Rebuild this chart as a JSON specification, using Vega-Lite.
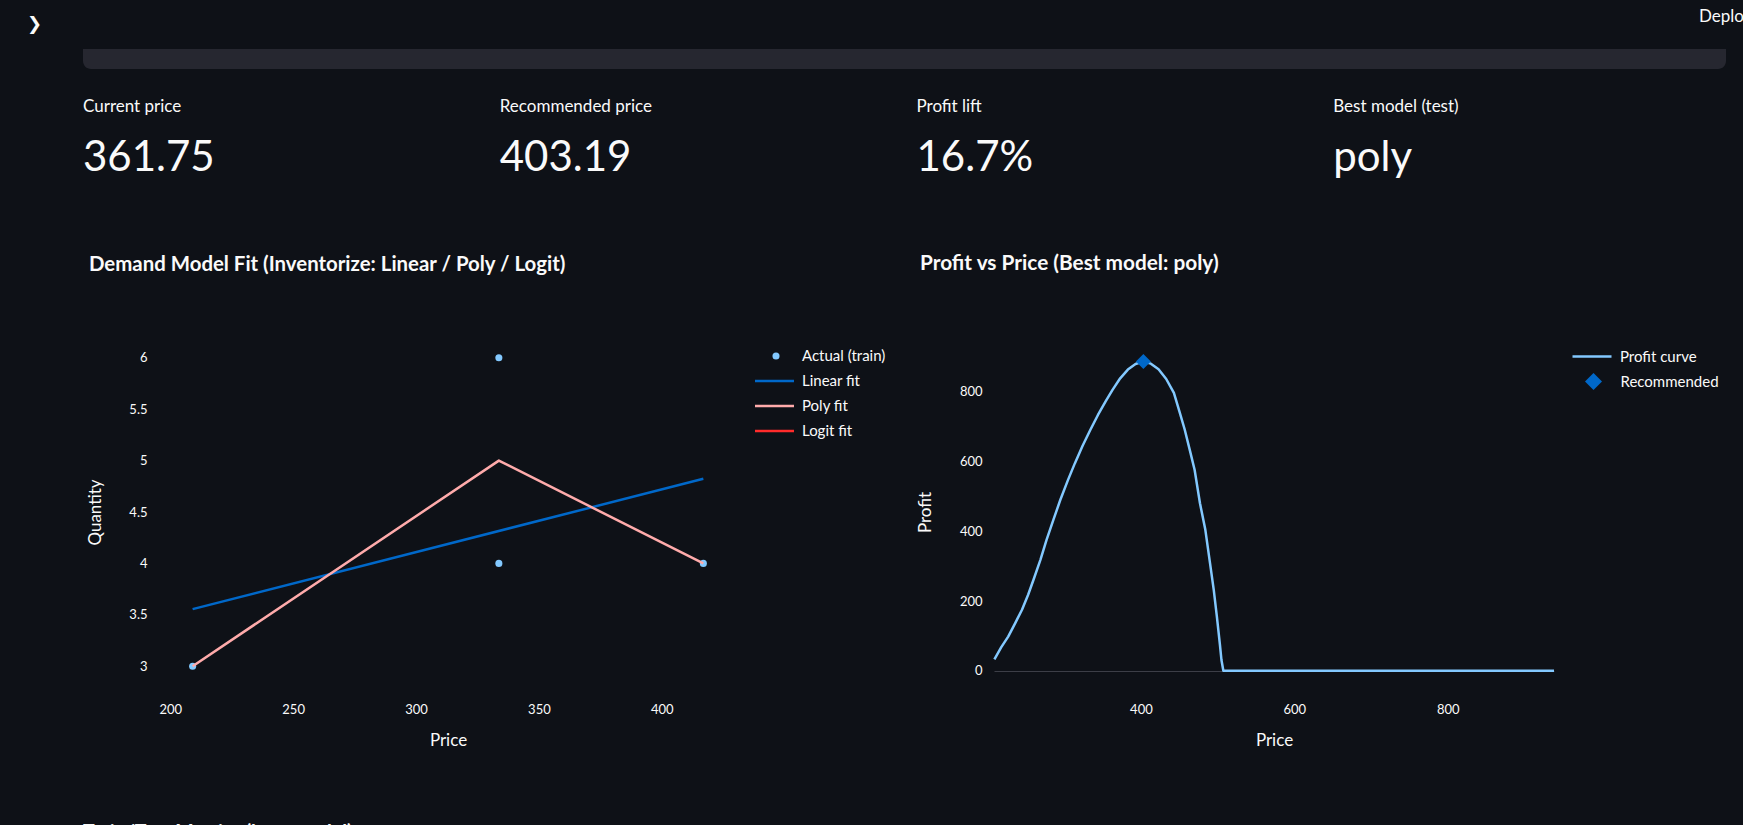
{
  "$schema": "https://vega.github.io/schema/vega-lite/v6.json",
  "background": "#0e1117",
  "autosize": {"type": "none"},
  "padding": {"left": 83, "top": 0, "right": 1660, "bottom": 825},
  "config": {
    "font": "Lato",
    "view": {"stroke": null},
    "axis": {
      "domain": false, "ticks": false, "grid": false,
      "labelColor": "#fafafa", "titleColor": "#fafafa",
      "labelFont": "Lato", "titleFont": "Lato",
      "labelFontSize": 13, "titleFontSize": 17, "titleFontWeight": "normal"
    },
    "legend": {"labelColor": "#fafafa", "labelFont": "Lato", "labelFontSize": 15, "padding": 0},
    "title": {"color": "#fafafa", "font": "Lato"}
  },
  "spacing": 0,
  "bounds": "flush",
  "vconcat": [
    {
      "width": 1643, "height": 49,
      "layer": [
        {
          "data": {"values": [{"item": "❯"}]},
          "mark": {"type": "text", "align": "left", "baseline": "middle", "font": "DejaVu Sans", "fontSize": 18, "color": "#fafafa"},
          "encoding": {
            "x": {"field": "item", "type": "nominal", "scale": {"type": "point", "domain": ["❯", "Deploy"], "range": [-56, 1616], "padding": 0}, "axis": null},
            "text": {"field": "item"}
          }
        },
        {
          "data": {"values": [{"item": "Deploy"}]},
          "mark": {"type": "text", "align": "left", "baseline": "middle", "dy": -7.5, "fontSize": 17, "color": "#fafafa"},
          "encoding": {
            "x": {"field": "item", "type": "nominal", "axis": null},
            "text": {"field": "item"}
          }
        }
      ]
    },
    {
      "width": 1643, "height": 20,
      "data": {"values": [{"block": "code"}]},
      "mark": {"type": "rect", "color": "#262730", "cornerRadiusBottomLeft": 8, "cornerRadiusBottomRight": 8},
      "encoding": {}
    },
    {
      "width": 1667, "height": 258,
      "data": {"values": [
        {"metric": "Current price", "value": "361.75"},
        {"metric": "Recommended price", "value": "403.19"},
        {"metric": "Profit lift", "value": "16.7%"},
        {"metric": "Best model (test)", "value": "poly"}
      ]},
      "encoding": {
        "x": {"field": "metric", "type": "nominal", "sort": null, "bandPosition": 0, "scale": {"type": "band", "paddingInner": 0, "paddingOuter": 0}, "axis": null}
      },
      "layer": [
        {"mark": {"type": "text", "align": "left", "baseline": "middle", "dy": -91, "fontSize": 17, "color": "#fafafa"}, "encoding": {"text": {"field": "metric"}}},
        {"mark": {"type": "text", "align": "left", "baseline": "middle", "dy": -40, "fontSize": 42, "color": "#fafafa"}, "encoding": {"text": {"field": "value"}}}
      ]
    },
    {
      "spacing": 256,
      "bounds": "flush",
      "resolve": {
        "scale": {"stroke": "independent", "fill": "independent", "shape": "independent", "color": "independent"},
        "legend": {"stroke": "independent", "fill": "independent", "shape": "independent", "color": "independent"}
      },
      "title": {"text": "Train/Test Metrics (best model)", "orient": "bottom", "anchor": "start", "frame": "bounds", "offset": 74, "fontSize": 19.5, "fontWeight": "bold", "color": "#fafafa"},
      "hconcat": [
        {
          "width": 655, "height": 370,
          "title": {"text": "Demand Model Fit (Inventorize: Linear / Poly / Logit)", "anchor": "start", "frame": "group", "dx": 6, "offset": 52, "fontSize": 20.4, "fontWeight": "bold", "color": "#fafafa"},
          "layer": [
            {
              "data": {"values": [
                {"price": 209.1, "quantity": 3, "series": "Actual (train)"},
                {"price": 333.7, "quantity": 6, "series": "Actual (train)"},
                {"price": 333.7, "quantity": 4, "series": "Actual (train)"},
                {"price": 416.9, "quantity": 4, "series": "Actual (train)"}
              ]},
              "mark": {"type": "point", "filled": true, "size": 50, "opacity": 1, "strokeWidth": 0},
              "encoding": {
                "x": {"field": "price", "type": "quantitative", "scale": {"domain": [164.5, 431], "nice": false, "zero": false},
                      "axis": {"values": [200, 250, 300, 350, 400], "title": "Price", "titleX": 365, "labelPadding": 6.5, "titlePadding": 16}},
                "y": {"field": "quantity", "type": "quantitative", "scale": {"domain": [2.7, 6.3], "nice": false, "zero": false},
                      "axis": {"values": [3, 3.5, 4, 4.5, 5, 5.5, 6], "format": "~g", "title": "Quantity", "offset": -75, "labelPadding": 11, "titlePadding": 24}},
                "fill": {"field": "series", "type": "nominal", "scale": {"domain": ["Actual (train)"], "range": ["#83c9ff"]},
                         "legend": {"title": null, "orient": "none", "legendX": 685.5, "legendY": 21.5, "symbolType": "circle", "symbolSize": 50, "symbolStrokeWidth": 0, "labelOffset": 18.5}}
              }
            },
            {
              "data": {"values": [
                {"price": 209.1, "quantity": 3.555, "series": "Linear fit"},
                {"price": 416.9, "quantity": 4.823, "series": "Linear fit"},
                {"price": 209.1, "quantity": 3.0, "series": "Poly fit"},
                {"price": 333.7, "quantity": 5.0, "series": "Poly fit"},
                {"price": 416.9, "quantity": 4.0, "series": "Poly fit"}
              ]},
              "mark": {"type": "line", "strokeWidth": 2.5, "strokeJoin": "round"},
              "encoding": {
                "x": {"field": "price", "type": "quantitative"},
                "y": {"field": "quantity", "type": "quantitative"},
                "stroke": {"field": "series", "type": "nominal", "scale": {"domain": ["Linear fit", "Poly fit", "Logit fit"], "range": ["#0068c9", "#ffabab", "#ff2b2b"]},
                           "legend": {"title": null, "orient": "none", "legendX": 674.5, "legendY": 37, "symbolType": "M-1.258,0L1.258,0", "symbolSize": 961, "symbolStrokeWidth": 2.5, "labelOffset": 10.5, "rowPadding": 0}}
              }
            }
          ]
        },
        {
          "width": 560, "height": 370,
          "title": {"text": "Profit vs Price (Best model: poly)", "anchor": "start", "frame": "group", "dx": -74, "offset": 52, "fontSize": 20.8, "fontWeight": "bold", "color": "#fafafa"},
          "layer": [
            {
              "data": {"values": [
                {"price": 209, "profit": 33}, {"price": 218, "profit": 68}, {"price": 227, "profit": 98},
                {"price": 236, "profit": 136}, {"price": 245, "profit": 175}, {"price": 253, "profit": 218},
                {"price": 260, "profit": 261}, {"price": 269, "profit": 318}, {"price": 277, "profit": 375},
                {"price": 286, "profit": 433}, {"price": 295, "profit": 490}, {"price": 305, "profit": 547},
                {"price": 314, "profit": 595}, {"price": 324, "profit": 645}, {"price": 334, "profit": 690},
                {"price": 344, "profit": 733}, {"price": 354, "profit": 772}, {"price": 363, "profit": 805},
                {"price": 373, "profit": 838}, {"price": 383, "profit": 863}, {"price": 393, "profit": 879},
                {"price": 403, "profit": 886}, {"price": 413, "profit": 880}, {"price": 423, "profit": 864},
                {"price": 433, "profit": 836}, {"price": 443, "profit": 796}, {"price": 450, "profit": 745},
                {"price": 457, "profit": 692}, {"price": 464, "profit": 630}, {"price": 470, "profit": 576},
                {"price": 477, "profit": 480}, {"price": 484, "profit": 404}, {"price": 490, "profit": 310},
                {"price": 495, "profit": 231}, {"price": 499, "profit": 156}, {"price": 503, "profit": 75},
                {"price": 505, "profit": 31}, {"price": 507.5, "profit": 0}, {"price": 550, "profit": 0},
                {"price": 600, "profit": 0}, {"price": 650, "profit": 0}, {"price": 700, "profit": 0},
                {"price": 750, "profit": 0}, {"price": 800, "profit": 0}, {"price": 850, "profit": 0},
                {"price": 900, "profit": 0}, {"price": 938.5, "profit": 0}
              ]},
              "mark": {"type": "line", "strokeWidth": 2.5, "strokeJoin": "round"},
              "encoding": {
                "x": {"field": "price", "type": "quantitative", "scale": {"domain": [208.5, 938.5], "nice": false, "zero": false},
                      "axis": {"values": [400, 600, 800], "title": "Price", "labelPadding": 6.5, "titlePadding": 16}},
                "y": {"field": "profit", "type": "quantitative", "scale": {"domain": [-75, 985], "nice": false, "zero": false},
                      "axis": {"values": [0, 200, 400, 600, 800], "title": "Profit", "labelPadding": 12, "titlePadding": 25, "grid": true,
                               "gridColor": {"condition": {"test": "datum.value === 0", "value": "#3c3e47"}, "value": "transparent"}}},
                "stroke": {"datum": "Profit curve", "type": "nominal", "scale": {"domain": ["Profit curve"], "range": ["#83c9ff"]},
                           "legend": {"title": null, "orient": "none", "legendX": 577, "legendY": 8.5, "symbolType": "stroke", "symbolSize": 1521, "symbolStrokeWidth": 2.5, "labelOffset": 7}}
              }
            },
            {
              "data": {"values": [{"price": 403.19, "profit": 886, "series": "Recommended"}]},
              "mark": {"type": "point", "filled": true, "size": 225, "opacity": 1, "color": "#0068c9", "strokeWidth": 0},
              "encoding": {
                "x": {"field": "price", "type": "quantitative"},
                "y": {"field": "profit", "type": "quantitative"},
                "shape": {"field": "series", "type": "nominal", "scale": {"domain": ["Recommended"], "range": ["diamond"]},
                          "legend": {"title": null, "orient": "none", "legendX": 590.5, "legendY": 45.5, "symbolSize": 290, "symbolStrokeWidth": 0, "symbolFillColor": "#0068c9", "labelOffset": 18}}
              }
            }
          ]
        }
      ]
    }
  ]
}
